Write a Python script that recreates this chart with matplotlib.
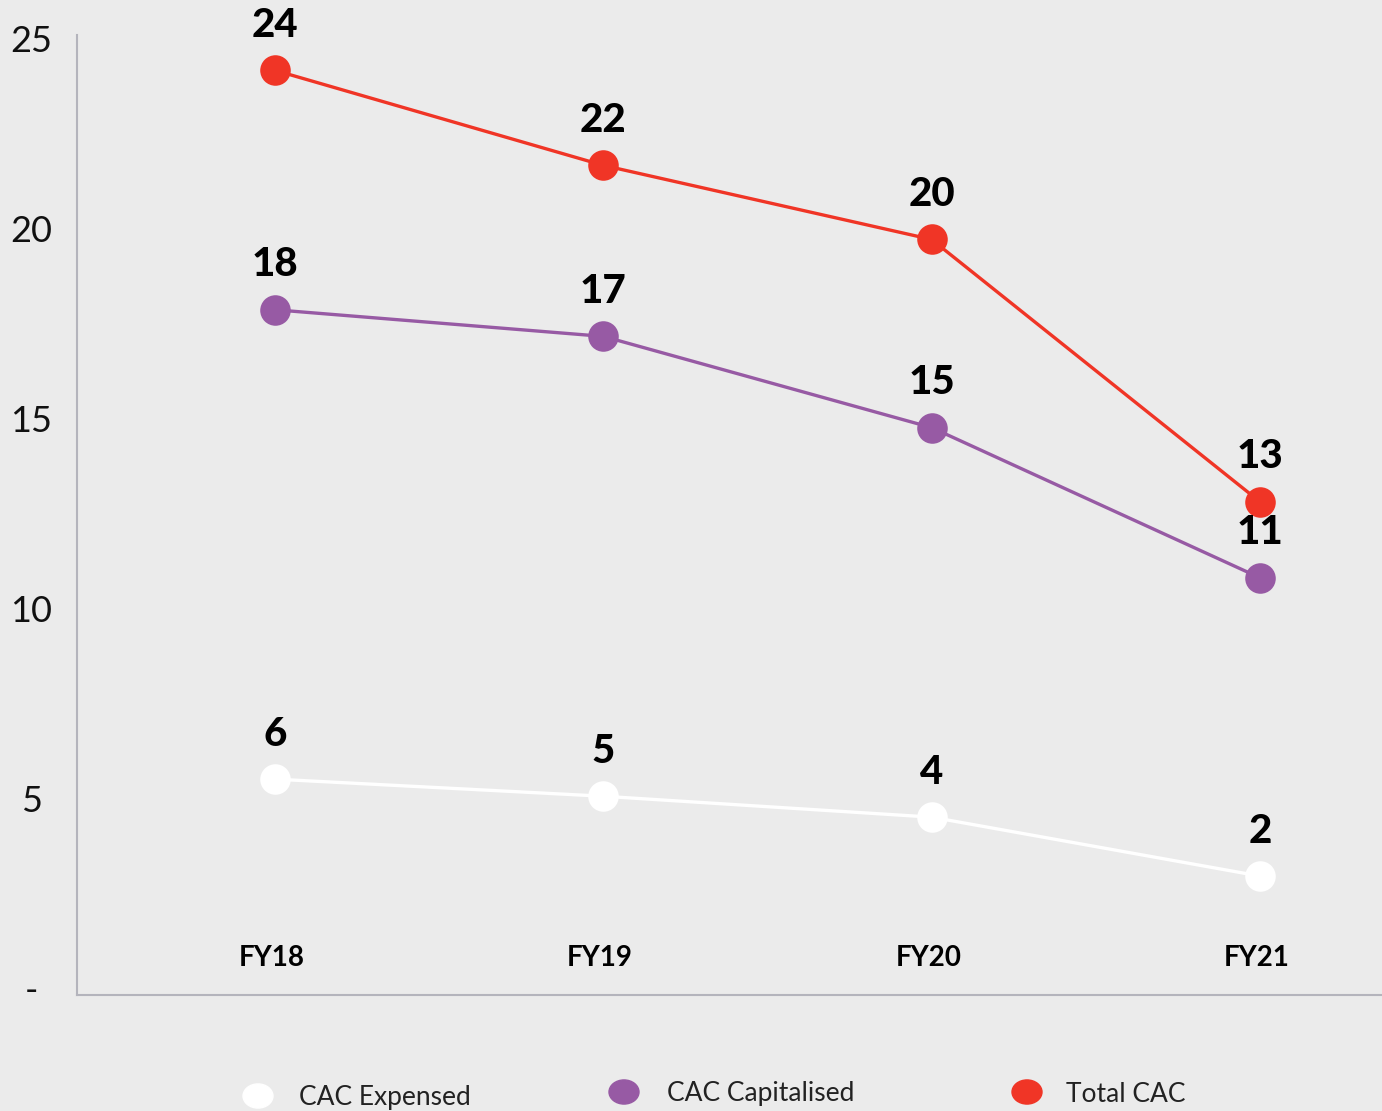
import matplotlib.pyplot as plt

# Data
years = ['FY18', 'FY19', 'FY20', 'FY21']
cac_expensed = [5.5, 5.05, 4.5, 2.95]
cac_capitalised = [17.85, 17.15, 14.75, 10.8]
total_cac = [24.15, 21.65, 19.7, 12.8]
expensed_labels = ['6', '5', '4', '2']
capitalised_labels = ['18', '17', '15', '11']
total_labels = ['24', '22', '20', '13']
y_ticks = [0, 5, 10, 15, 20, 25]
y_tick_labels = ['-', '5', '10', '15', '20', '25']

bg = '#ebebeb'
red = '#f03526'
purple = '#975aa4'
white = '#ffffff'

plt.rcParams['font.family'] = ['Lato', 'DejaVu Sans']

fig = plt.figure(figsize=(13.82, 11.11), dpi=100, facecolor=bg)
ax = fig.add_axes([77 / 1382, 1 - 995 / 1111, 1 - 77 / 1382, (995 - 35) / 1111])
ax.set_facecolor(bg)

x = list(range(len(years)))
series = [
    (cac_expensed, expensed_labels, white, 'CAC Expensed'),
    (cac_capitalised, capitalised_labels, purple, 'CAC Capitalised'),
    (total_cac, total_labels, red, 'Total CAC'),
]
for vals, labels, color, name in series:
    ax.plot(x, vals, color=color, lw=2.4, marker='o', markersize=22,
            markeredgewidth=0, label=name, zorder=3)
    for xi, v, lab in zip(x, vals, labels):
        ax.annotate(lab, (xi, v), xytext=(0, 24), textcoords='offset points',
                    ha='center', va='baseline', fontsize=29, fontweight='black',
                    color='black', zorder=4)

# category labels sit inside the plot area
for xi, yr in zip(x, years):
    ax.text(xi - 0.01, 0.8, yr, ha='center', va='center', fontsize=20,
            fontweight='bold', color='black')

ax.set_xlim(-0.603, 3.372)
ax.set_ylim(-0.18, 25.08)
ax.set_xticks([])
ax.set_yticks(y_ticks)
ax.set_yticklabels(y_tick_labels, fontsize=26, color='#111111')
ax.tick_params(axis='y', length=0, pad=33)
for lab in ax.get_yticklabels():
    lab.set_horizontalalignment('center')

for side in ['top', 'right']:
    ax.spines[side].set_visible(False)
ax.spines['left'].set_color('#b4b4bc')
ax.spines['bottom'].set_color('#b4b4bc')
ax.spines['left'].set_linewidth(1.5)
ax.spines['bottom'].set_linewidth(1.5)

# legend row at the bottom
legend_pos = [(258, 299, 1096), (624, 667, 1092), (1027, 1066, 1092)]
for (mx, tx, my), (_, _, color, name) in zip(legend_pos, series):
    fig.patches.append(plt.Circle((mx / 1382, 1 - my / 1111), 15 / 1382,
                                  transform=fig.transFigure, color=color))
    fig.text(tx / 1382, 1 - (my + 2) / 1111, name, ha='left', va='center',
             fontsize=19, color='#222222', fontweight='normal')

fig.savefig('out.png', dpi=100, facecolor=bg)
